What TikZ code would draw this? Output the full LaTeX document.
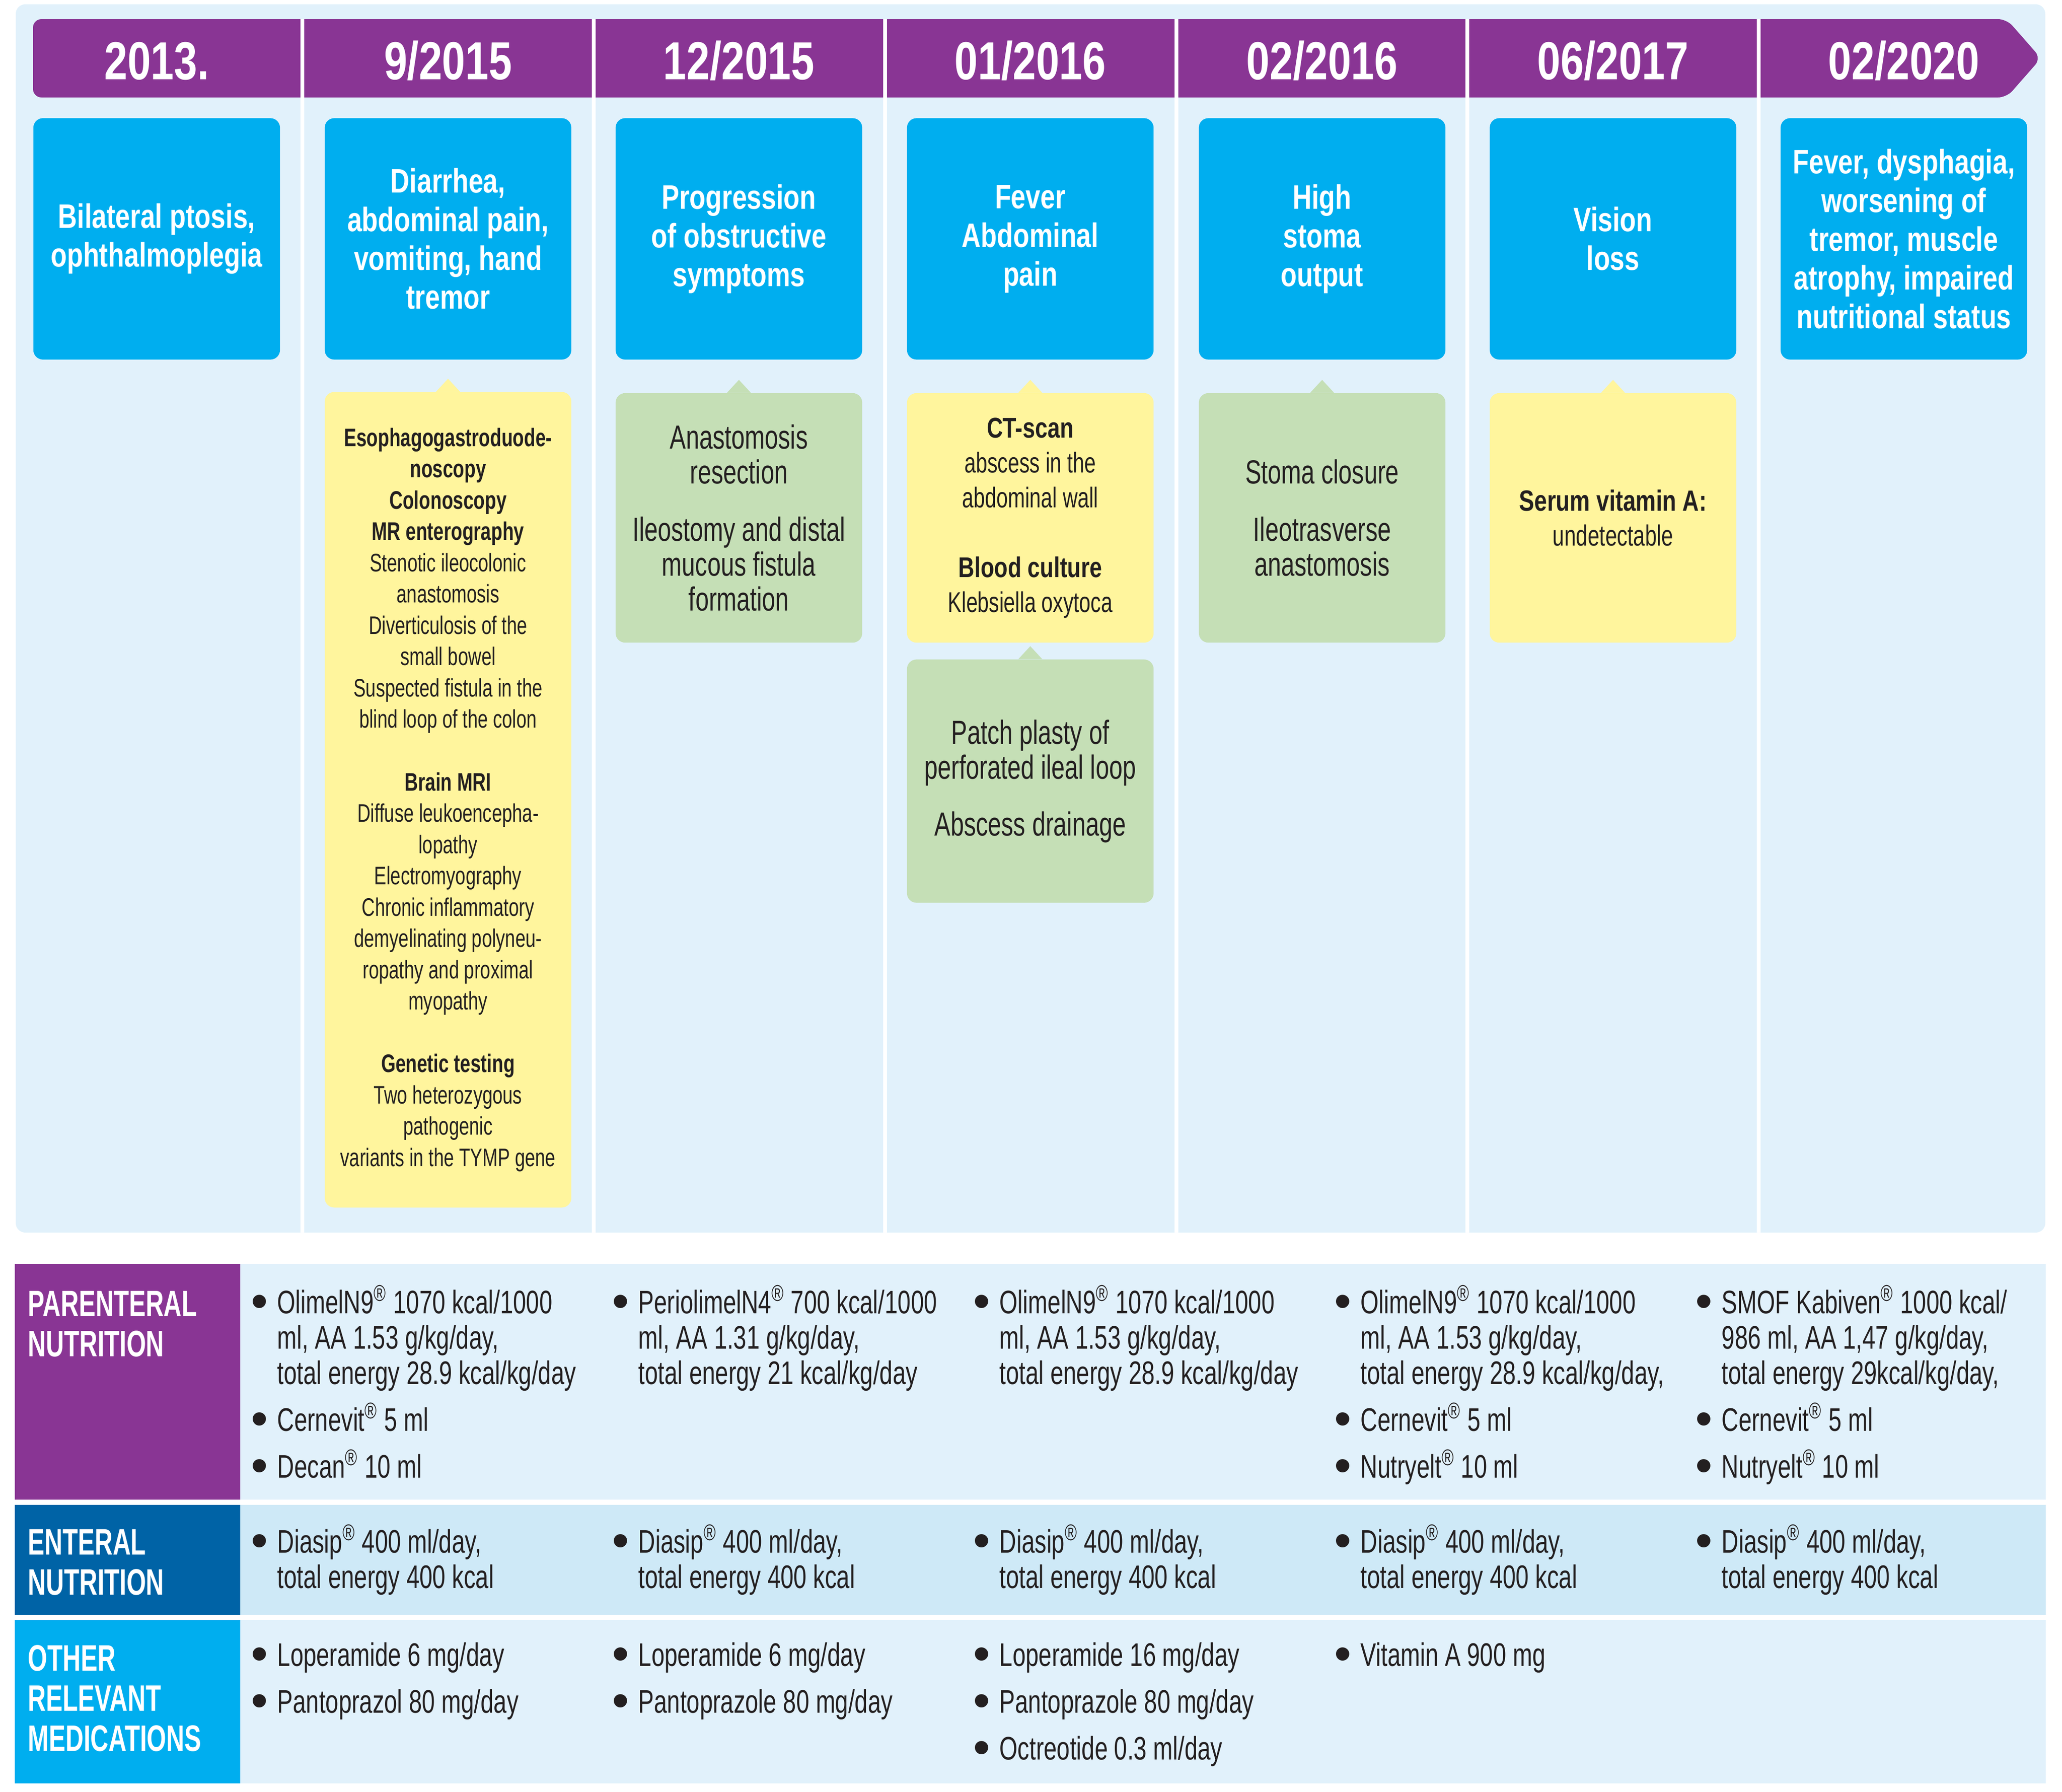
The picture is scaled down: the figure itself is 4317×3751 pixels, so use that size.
\documentclass[tikz,border=0pt]{standalone}
\usepackage{fontspec}
\setmainfont{Liberation Sans}
\newfontfamily\Rm{Liberation Sans}[FakeStretch=0.72]
\newfontfamily\Bd{Liberation Sans}[FakeStretch=0.78]
\newfontfamily\Yb{Liberation Sans}[FakeStretch=0.73]
\newfontfamily\Lb{Liberation Sans}[FakeStretch=0.68]
\newfontfamily\Bu{Liberation Sans}
\definecolor{cpurple}{HTML}{893594}
\definecolor{cblue}{HTML}{00AEEF}
\definecolor{cdblue}{HTML}{0063A6}
\definecolor{cpanel}{HTML}{E1F1FB}
\definecolor{crowdark}{HTML}{CEE9F7}
\definecolor{cyellow}{HTML}{FFF59D}
\definecolor{cgreen}{HTML}{C5DFB6}
\definecolor{tdark}{HTML}{231F20}
\newcommand\reg{\textsuperscript{\textregistered}}
\newcommand\bul{\makebox[0.55cm][l]{\raisebox{-0.13em}{\scalebox{1.5}{\Bu\textbullet}}}}
\newcommand\hang{\hspace*{0.55cm}}
\newcommand\st{\rule{0pt}{0.8cm}}
\newcommand\yb[1]{{\Yb\bfseries #1}}
\newcommand\bb[1]{{\Bd\bfseries #1}}
\tikzset{
  datetxt/.style={anchor=base, text=white, inner sep=0pt, font=\Bd\bfseries\fontsize{31.9}{36}\selectfont},
  bluebox/.style={fill=cblue, rounded corners=0.2cm, minimum width=5.16cm, minimum height=5.05cm, align=center, text=white, inner sep=0pt, font=\Bd\bfseries\fontsize{20.2}{23.04}\selectfont},
  lowbox/.style={rounded corners=0.2cm, minimum width=5.16cm, align=center, text=tdark, inner sep=0pt},
  ybox/.style={lowbox, fill=cyellow},
  gbox/.style={lowbox, fill=cgreen},
  cell/.style={anchor=north west, align=left, inner sep=0pt, text=tdark, font=\Rm\fontsize{19.4}{21.05}\selectfont},
  rowlabel/.style={anchor=north west, align=left, inner sep=0pt, text=white, font=\Lb\bfseries\fontsize{21.9}{23.9}\selectfont},
  sepline/.style={white, line width=0.08cm}
}
\newcommand\calltip[2]{\fill[#1] ([xshift=-0.25cm]#2.north) -- ([yshift=0.27cm]#2.north) -- ([xshift=0.25cm]#2.north) -- cycle;}
\begin{document}
\begin{tikzpicture}[x=0.01cm, y=-0.01cm]
\useasboundingbox (0,0) rectangle (4317,3751);
\fill[white] (0,0) rectangle (4317,3751);
% panel
\fill[cpanel, rounded corners=0.2cm] (33,9) rectangle (4282,2580);
% header arrow
\fill[cpurple, rounded corners=0.18cm] (69,122) -- (69,40) -- (4201,40) -- (4273,122) -- (4201,204) -- (69,204) -- cycle;
% separators
\foreach \sx in {633,1243,1853,2463,3072,3682} {\draw[sepline] (\sx,40) -- (\sx,2580);}
% dates
\node[datetxt] (d1) at (328,166) {2013.};
\node[datetxt] (d2) at (938,166) {9/2015};
\node[datetxt] (d3) at (1547,166) {12/2015};
\node[datetxt] (d4) at (2157,166) {01/2016};
\node[datetxt] (d5) at (2768,166) {02/2016};
\node[datetxt] (d6) at (3377,166) {06/2017};
\node[datetxt] (d7) at (3986,166) {02/2020};
% blue boxes
\node[bluebox] (b1) at (328,500) {Bilateral ptosis,\\ophthalmoplegia};
\node[bluebox] (b2) at (938,500) {Diarrhea,\\abdominal pain,\\vomiting, hand\\tremor};
\node[bluebox] (b3) at (1547,500) {Progression\\of obstructive\\symptoms};
\node[bluebox] (b4) at (2157,500) {Fever\\Abdominal\\pain};
\node[bluebox] (b5) at (2768,500) {High\\stoma\\output};
\node[bluebox] (b6) at (3377,500) {Vision\\loss};
\node[bluebox] (b7) at (3986,500) {Fever, dysphagia,\\worsening of\\tremor, muscle\\atrophy, impaired\\nutritional status};
% lower boxes
\node[ybox, minimum height=17.06cm, font=\Rm\fontsize{15.1}{18.63}\selectfont] (y2) at (938,1674) {\yb{Esophagogastroduode-}\\\yb{noscopy}\\\yb{Colonoscopy}\\\yb{MR enterography}\\Stenotic ileocolonic\\anastomosis\\Diverticulosis of the\\small bowel\\Suspected fistula in the\\blind loop of the colon\\[0.655cm]\yb{Brain MRI}\\Diffuse leukoencepha-\\lopathy\\Electromyography\\Chronic inflammatory\\demyelinating polyneu-\\ropathy and proximal\\myopathy\\[0.655cm]\yb{Genetic testing}\\Two heterozygous\\pathogenic\\variants in the TYMP gene};
\calltip{cyellow}{y2}
\node[gbox, minimum height=5.22cm, font=\Rm\fontsize{19.9}{20.77}\selectfont] (g3) at (1547,1084) {Anastomosis\\resection\\[0.46cm]Ileostomy and distal\\mucous fistula\\formation};
\calltip{cgreen}{g3}
\node[ybox, minimum height=5.22cm, font=\Rm\fontsize{17}{20.77}\selectfont] (y4) at (2157,1084) {\bb{CT-scan}\\abscess in the\\abdominal wall\\[0.73cm]\bb{Blood culture}\\Klebsiella oxytoca};
\calltip{cyellow}{y4}
\node[gbox, minimum height=5.09cm, font=\Rm\fontsize{19.9}{20.77}\selectfont] (g4) at (2157,1635) {Patch plasty of\\perforated ileal loop\\[0.46cm]Abscess drainage};
\calltip{cgreen}{g4}
\node[gbox, minimum height=5.22cm, font=\Rm\fontsize{19.9}{20.77}\selectfont] (g5) at (2768,1084) {Stoma closure\\[0.46cm]Ileotrasverse\\anastomosis};
\calltip{cgreen}{g5}
\node[ybox, minimum height=5.22cm, font=\Rm\fontsize{17.4}{20.77}\selectfont] (y6) at (3377,1084) {\bb{Serum vitamin A:}\\undetectable};
\calltip{cyellow}{y6}
% table rows
\fill[cpurple] (31,2646) rectangle (503,3139);
\fill[cpanel] (503,2646) rectangle (4283,3139);
\fill[cdblue] (31,3150) rectangle (503,3380);
\fill[crowdark] (503,3150) rectangle (4283,3380);
\fill[cblue] (31,3391) rectangle (503,3733);
\fill[cpanel] (503,3391) rectangle (4283,3733);
\node[rowlabel] (lp) at (58,2675) {\st PARENTERAL\\NUTRITION};
\node[rowlabel] (le) at (58,3174) {\st ENTERAL\\NUTRITION};
\node[rowlabel] (lo) at (58,3417) {\st OTHER\\RELEVANT\\MEDICATIONS};
% parenteral
\node[cell] (pA) at (525,2669) {\st\bul OlimelN9\reg{} 1070 kcal/1000\\\hang ml, AA 1.53 g/kg/day,\\\hang total energy 28.9 kcal/kg/day\\[0.24cm]\bul Cernevit\reg{} 5 ml\\[0.24cm]\bul Decan\reg{} 10 ml};
\node[cell] (pB) at (1281,2669) {\st\bul PeriolimelN4\reg{} 700 kcal/1000\\\hang ml, AA 1.31 g/kg/day,\\\hang total energy 21 kcal/kg/day};
\node[cell] (pC) at (2037,2669) {\st\bul OlimelN9\reg{} 1070 kcal/1000\\\hang ml, AA 1.53 g/kg/day,\\\hang total energy 28.9 kcal/kg/day};
\node[cell] (pD) at (2793,2669) {\st\bul OlimelN9\reg{} 1070 kcal/1000\\\hang ml, AA 1.53 g/kg/day,\\\hang total energy 28.9 kcal/kg/day,\\[0.24cm]\bul Cernevit\reg{} 5 ml\\[0.24cm]\bul Nutryelt\reg{} 10 ml};
\node[cell] (pE) at (3549,2669) {\st\bul SMOF Kabiven\reg{} 1000 kcal/\\\hang 986 ml, AA 1,47 g/kg/day,\\\hang total energy 29kcal/kg/day,\\[0.24cm]\bul Cernevit\reg{} 5 ml\\[0.24cm]\bul Nutryelt\reg{} 10 ml};
% enteral
\node[cell] (eA) at (525,3170) {\st\bul Diasip\reg{} 400 ml/day,\\\hang total energy 400 kcal};
\node[cell] (eB) at (1281,3170) {\st\bul Diasip\reg{} 400 ml/day,\\\hang total energy 400 kcal};
\node[cell] (eC) at (2037,3170) {\st\bul Diasip\reg{} 400 ml/day,\\\hang total energy 400 kcal};
\node[cell] (eD) at (2793,3170) {\st\bul Diasip\reg{} 400 ml/day,\\\hang total energy 400 kcal};
\node[cell] (eE) at (3549,3170) {\st\bul Diasip\reg{} 400 ml/day,\\\hang total energy 400 kcal};
% other
\node[cell] (oA) at (525,3407) {\st\bul Loperamide 6 mg/day\\[0.24cm]\bul Pantoprazol 80 mg/day};
\node[cell] (oB) at (1281,3407) {\st\bul Loperamide 6 mg/day\\[0.24cm]\bul Pantoprazole 80 mg/day};
\node[cell] (oC) at (2037,3407) {\st\bul Loperamide 16 mg/day\\[0.24cm]\bul Pantoprazole 80 mg/day\\[0.24cm]\bul Octreotide 0.3 ml/day};
\node[cell] (oD) at (2793,3407) {\st\bul Vitamin A 900 mg};
\end{tikzpicture}
\end{document}
